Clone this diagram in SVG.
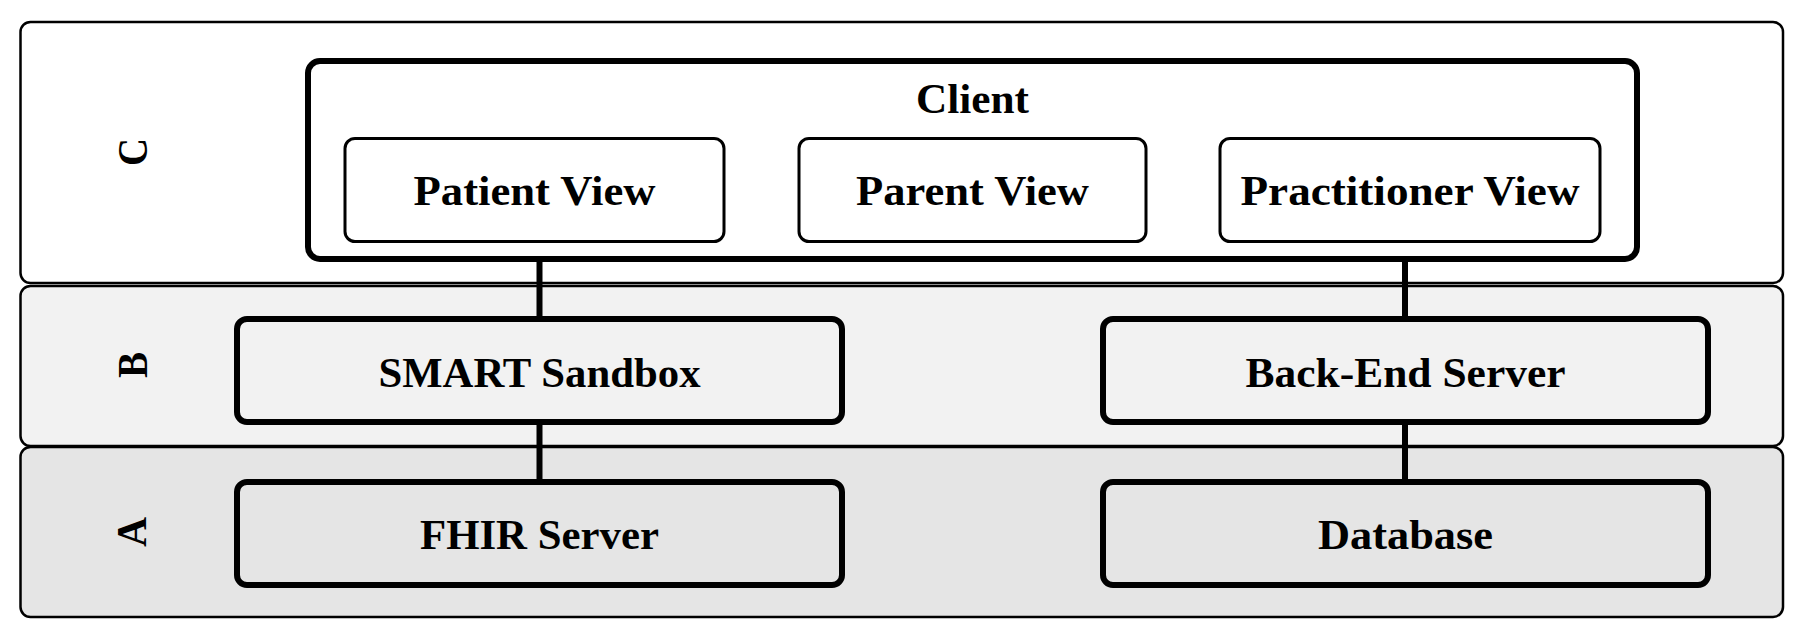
<svg xmlns="http://www.w3.org/2000/svg" width="1806" height="638" viewBox="0 0 1806 638">
<style>
.layer{stroke:#000;stroke-width:2.5}
.box{stroke:#000;stroke-width:6}
.view{fill:#fff;stroke:#000;stroke-width:3}
.t{font-family:"Liberation Serif","Times New Roman",serif;font-weight:bold;font-size:42px;text-anchor:middle;fill:#000}
.conn{stroke:#000;stroke-width:6;fill:none}
</style>
<rect width="1806" height="638" fill="#fff"/>
<g id="layer-C">
<rect class="layer" x="20.5" y="22" width="1762.5" height="261" rx="10" fill="#fff"/>
<text class="t" transform="translate(147,152) rotate(-90)" textLength="28" lengthAdjust="spacingAndGlyphs">C</text>
</g>
<g id="layer-B">
<rect class="layer" x="20.5" y="286" width="1762.5" height="160" rx="10" fill="#f2f2f2"/>
<text class="t" transform="translate(147,365) rotate(-90)" textLength="26" lengthAdjust="spacingAndGlyphs">B</text>
</g>
<g id="layer-A">
<rect class="layer" x="20.5" y="447" width="1762.5" height="170" rx="10" fill="#e5e5e5"/>
<text class="t" transform="translate(146,532) rotate(-90)" textLength="30" lengthAdjust="spacingAndGlyphs">A</text>
</g>
<g id="client">
<rect class="box" x="308" y="61" width="1329" height="198" rx="12" fill="#fff"/>
<text class="t" x="972.5" y="113" textLength="113" lengthAdjust="spacingAndGlyphs">Client</text>
</g>
<g id="patient-view">
<rect class="view" x="345" y="138.5" width="379" height="103" rx="10"/>
<text class="t" x="534.5" y="205" textLength="242" lengthAdjust="spacingAndGlyphs">Patient View</text>
</g>
<g id="parent-view">
<rect class="view" x="799" y="138.5" width="347" height="103" rx="10"/>
<text class="t" x="972.5" y="205" textLength="233" lengthAdjust="spacingAndGlyphs">Parent View</text>
</g>
<g id="practitioner-view">
<rect class="view" x="1220" y="138.5" width="380" height="103" rx="10"/>
<text class="t" x="1410" y="205" textLength="339" lengthAdjust="spacingAndGlyphs">Practitioner View</text>
</g>
<g id="smart-sandbox">
<rect class="box" x="237" y="319" width="605" height="103" rx="10" fill="#f2f2f2"/>
<text class="t" x="539.5" y="387" textLength="322" lengthAdjust="spacingAndGlyphs">SMART Sandbox</text>
</g>
<g id="back-end-server">
<rect class="box" x="1103" y="319" width="605" height="103" rx="10" fill="#f2f2f2"/>
<text class="t" x="1405.5" y="387" textLength="320" lengthAdjust="spacingAndGlyphs">Back-End Server</text>
</g>
<g id="fhir-server">
<rect class="box" x="237" y="482" width="605" height="103" rx="10" fill="#e5e5e5"/>
<text class="t" x="539.5" y="549" textLength="239" lengthAdjust="spacingAndGlyphs">FHIR Server</text>
</g>
<g id="database">
<rect class="box" x="1103" y="482" width="605" height="103" rx="10" fill="#e5e5e5"/>
<text class="t" x="1405.5" y="549" textLength="175" lengthAdjust="spacingAndGlyphs">Database</text>
</g>
<g id="connectors">
<line class="conn" x1="539.5" y1="262" x2="539.5" y2="316"/>
<line class="conn" x1="539.5" y1="425" x2="539.5" y2="479"/>
<line class="conn" x1="1405" y1="262" x2="1405" y2="316"/>
<line class="conn" x1="1405" y1="425" x2="1405" y2="479"/>
</g>
</svg>
